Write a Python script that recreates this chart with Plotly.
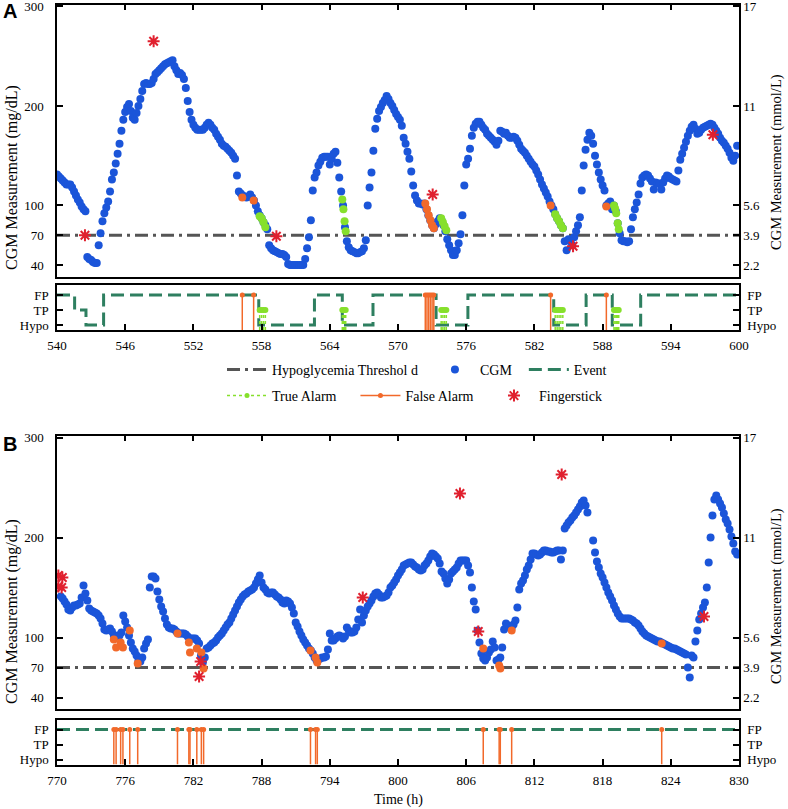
import numpy as np
import plotly.graph_objects as go

# ---------------- DATA ----------------
step_h = 1 / 6  # CGM values read every 10 min
a_start, a_end = 540, 600
b_start, b_end = 770, 830
hypo_threshold = 70

cgm_a = [
    131, 129, 127, 125, 123, 121,   # 540
    121, 121, 118, 114, 110, 106,   # 541
    103, 99, 96, 94, 48, 46,        # 542
    45, 43, 42, 42, 60, 72,         # 543
    84, 92, 98, 104, 114, 126,      # 544
    133, 142, 152, 162, 175, 186,   # 545
    194, 199, 202, 195, 188, 186,   # 546
    193, 200, 207, 215, 222, 223,   # 547
    222, 222, 223, 227, 232, 234,   # 548
    236, 238, 240, 242, 243, 244,   # 549
    245, 246, 240, 236, 232, 233,   # 550
    231, 227, 218, 205, 194, 186,   # 551
    181, 178, 176, 176, 176, 176,   # 552
    178, 181, 183, 181, 178, 176,   # 553
    172, 169, 166, 162, 160, 159,   # 554
    157, 155, 153, 150, 147, 130,   # 555
    114, 112, 110, 109, 108, 109,   # 556
    111, 108, 105, 100, 94, 90,     # 557
    87, 83, 80, 76, 60, 57,         # 558
    55, 54, 53, 52, 51, 51,         # 559
    50, 48, 41, 40, 40, 40,         # 560
    40, 40, 40, 40, 40, 46,         # 561
    57, 68, 85, 115, 128, 133,      # 562
    140, 144, 148, 149, 149, 149,   # 563
    141, 147, 152, 154, 143, 128,   # 564
    114, 100, 78, 64, 58, 55,       # 565
    54, 53, 52, 52, 53, 54,         # 566
    57, 65, 100, 118, 133, 155,     # 567
    177, 187, 195, 199, 203, 206,   # 568
    210, 207, 203, 200, 196, 192,   # 569
    189, 186, 180, 168, 162, 154,   # 570
    147, 134, 120, 110, 105, 102,   # 571
    102, 101, 102, 96, 90, 85,      # 572
    80, 77, 81, 84, 87, 85,         # 573
    80, 74, 66, 60, 55, 50,         # 574
    50, 55, 62, 71, 90, 120,        # 575
    141, 147, 157, 170, 178, 182,   # 576
    184, 184, 181, 178, 176, 172,   # 577
    170, 168, 166, 164, 161, 165,   # 578
    175, 174, 172, 173, 170, 168,   # 579
    168, 169, 168, 165, 161, 157,   # 580
    155, 153, 150, 147, 144, 141,   # 581
    139, 135, 131, 126, 121, 117,   # 582
    113, 109, 104, 100, 96, 91,     # 583
    87, 84, 80, 77, 64, 55,         # 584
    66, 64, 60, 68, 74, 80,         # 585
    88, 115, 140, 156, 166, 173,    # 586
    170, 162, 150, 141, 133, 126,   # 587
    120, 115, 100, 102, 104, 96,    # 588
    100, 94, 82, 72, 65, 64,        # 589
    64, 63, 64, 76, 88, 96,         # 590
    103, 111, 122, 128, 130, 131,   # 591
    130, 127, 124, 116, 123, 122,   # 592
    122, 116, 123, 127, 130, 129,   # 593
    127, 126, 125, 124, 135, 146,   # 594
    152, 158, 164, 170, 175, 179,   # 595
    181, 177, 172, 173, 176, 178,   # 596
    179, 180, 181, 182, 181, 178,   # 597
    175, 172, 168, 165, 163, 160,   # 598
    157, 153, 148, 145, 150, 160,   # 599
]

cgm_b = [
    None, None, 141, 139, 136, 133, # 770
    128, 127, 130, 132, 132, 133,   # 771
    134, 140, 152, 144, 137, 129,   # 772
    127, 126, 125, 124, 122, 119,   # 773
    114, 108, 107, 108, 109, 106,   # 774
    102, 101, 102, 102, 105, 122,   # 775
    116, 110, 102, 95, 89, 86,      # 776
    82, 77, 76, 80, 89, 94,         # 777
    98, 150, 161, 161, 159, 146,    # 778
    138, 131, 126, 119, 113, 110,   # 779
    109, 109, 108, 106, 104, 104,   # 780
    104, 104, 103, 101, 99, 99,     # 781
    99, 99, 97, 94, 82, 75,         # 782
    80, 89, 90, 92, 94, 95,         # 783
    97, 100, 102, 104, 107, 110,    # 784
    113, 115, 119, 123, 127, 131,   # 785
    135, 138, 141, 143, 144, 146,   # 786
    147, 148, 150, 154, 158, 162,   # 787
    155, 150, 148, 145, 144, 145,   # 788
    145, 143, 141, 140, 138, 135,   # 789
    134, 137, 136, 134, 130, 124,   # 790
    115, 111, 106, 102, 98, 95,     # 791
    92, 89, 87, 84, 80, 77,         # 792
    78, 79, 80, 80, 81, 88,         # 793
    104, 97, 97, 99, 101, 102,      # 794
    101, 99, 101, 110, 107, 105,    # 795
    105, 106, 110, 118, 128, 115,   # 796
    122, 127, 131, 134, 137, 141,   # 797
    144, 145, 143, 140, 140, 141,   # 798
    142, 145, 150, 152, 155, 158,   # 799
    162, 165, 168, 172, 173, 174,   # 800
    175, 175, 173, 171, 170, 168,   # 801
    167, 168, 172, 174, 177, 181,   # 802
    184, 183, 181, 179, 174, 166,   # 803
    164, 159, 154, 158, 164, 166,   # 804
    168, 170, 174, 177, 177, 177,   # 805
    177, 172, 165, 150, 136, 128,   # 806
    107, 95, 84, 79, 77, 80,        # 807
    85, 88, 96, 90, 77, 78,         # 808
    80, 90, 108, 114, 112, 110,     # 809
    110, 113, 117, 130, 148, 154,   # 810
    157, 162, 168, 172, 178, 184,   # 811
    184, 183, 182, 183, 185, 187,   # 812
    187, 186, 186, 185, 185, 186,   # 813
    187, 187, 178, 187, 209, 212,   # 814
    215, 217, 220, 222, 225, 228,   # 815
    231, 235, 237, 232, 225, None,  # 816
    None, 197, 185, 176, 170, 164,  # 817
    160, 155, 150, 145, 141, 137,   # 818
    132, 128, 124, 121, 119, 119,   # 819
    119, 119, 119, 118, 117, 115,   # 820
    114, 112, 109, 106, 104, 102,   # 821
    101, 100, 99, 98, 97, 96,       # 822
    96, 95, 94, 93, 92, 91,         # 823
    90, 89, 89, 88, 87, 86,         # 824
    85, 84, 83, 70, 60, 82,         # 825
    80, 96, 107, 118, 124, 130,     # 826
    135, 150, 175, 200, 222, 238,   # 827
    242, 238, 234, 230, 224, 218,   # 828
    214, 208, 201, 194, 186, 183,   # 829
]

# alarms (time h, CGM value at alarm)
false_a_t = [556.3, 557.3, 572.4, 572.55, 572.7, 572.85, 573.0, 573.15, 583.43, 588.33]
false_a_v = [108, 105, 102, 96, 90, 85, 80, 77, 100, 99]
true_a_t = [557.83, 558.0, 558.17, 558.33, 565.1, 565.2, 565.3, 565.4,
            573.8, 573.95, 574.1, 574.25, 583.83, 584.0, 584.17, 584.33, 584.5,
            589.0, 589.1, 589.2, 589.33, 589.42]
true_a_v = [89, 87, 83, 78, 106, 96, 84, 74,
            87, 83, 79, 75, 91, 87, 84, 80, 77,
            100, 97, 92, 82, 76]
finger_a_t = [542.46, 548.5, 559.3, 573.05, 585.4, 597.7]
finger_a_v = [70, 265, 69, 111, 59, 171]

false_b_t = [775.0, 775.2, 775.6, 775.8, 776.4, 777.1, 780.6, 781.6, 781.7, 782.3,
             782.7, 782.9, 792.3, 792.75, 792.9, 807.5, 808.9, 809.0, 810.0, 823.2]
false_b_v = [98, 90, 95, 90, 107, 74, 104, 95, 85, 89,
             85, 69, 87, 80, 75, 89, 72, 69, 107, 94]
true_b_t = []
true_b_v = []
finger_b_t = [770.12, 770.47, 770.12, 770.41, 782.64, 782.5, 796.9, 805.45, 807.06, 814.4, 826.92]
finger_b_v = [162, 160, 151, 150, 76, 61, 140, 244, 106, 263, 121]

# event state steps (0 = Hypo, 1 = TP, 2 = FP)
event_a_t = [540, 541.55, 542.55, 544.1, 557.75, 562.65, 565.1, 567.8, 573.35, 576.15,
             583.7, 586.55, 588.85, 591.35, 600]
event_a_s = [2, 1, 0, 2, 0, 2, 0, 2, 0, 2, 0, 2, 0, 2, 2]
event_b_t = [770, 830]
event_b_s = [2, 2]

mg_ticks = [40, 70, 100, 200, 300]
mmol_labels = ["2.2", "3.9", "5.6", "11", "17"]
event_ticks = [0, 1, 2]
event_labels = ["Hypo", "TP", "FP"]

# ---------------- STYLE ----------------
W, H = 788, 809
C_BLUE = "#1b55d9"
C_ORANGE = "#f2692a"
C_GREEN = "#86e02c"
C_RED = "#e0202e"
C_EVENT = "#2e7f60"
C_THR = "#555555"
FONT = "Liberation Serif"
NB = "\u00a0"

XD = [57 / W, 739 / W]


def ydom(top_px, bot_px):
    return [1 - bot_px / H, 1 - top_px / H]


def stems(times, top, bottom):
    xs, ys = [], []
    for t in times:
        xs += [t, t, None]
        ys += [bottom, top, None]
    return xs, ys


EV_RANGE = [-1 / 3, 2 + 2 / 3]
CGM_RANGE = [28.5, 302]

fig = go.Figure()

panels = [
    dict(t0=a_start, t1=a_end, cgm=cgm_a, ft=false_a_t, fv=false_a_v, tt=true_a_t, tv=true_a_v,
         gt=finger_a_t, gv=finger_a_v, et=event_a_t, es=event_a_s,
         xc="x", yc="y", yr="y2", xe="x2", ye="y3", yer="y4", leg=True),
    dict(t0=b_start, t1=b_end, cgm=cgm_b, ft=false_b_t, fv=false_b_v, tt=true_b_t, tv=true_b_v,
         gt=finger_b_t, gv=finger_b_v, et=event_b_t, es=event_b_s,
         xc="x3", yc="y5", yr="y6", xe="x4", ye="y7", yer="y8", leg=False),
]

for p in panels:
    t = p["t0"] + np.arange(len(p["cgm"])) * step_h
    fig.add_trace(go.Scatter(x=[p["t0"], p["t1"]], y=[hypo_threshold, hypo_threshold], mode="lines",
                             line=dict(color=C_THR, width=3, dash="13px,5px,3px,5px"),
                             name="Hypoglycemia Threshol d" + NB * 2, showlegend=p["leg"], legend="legend",
                             xaxis=p["xc"], yaxis=p["yc"]))
    fig.add_trace(go.Scatter(x=t, y=p["cgm"], mode="markers",
                             marker=dict(color=C_BLUE, size=8, line=dict(width=0)),
                             name="CGM" + NB * 2, showlegend=p["leg"], legend="legend",
                             xaxis=p["xc"], yaxis=p["yc"]))
    fig.add_trace(go.Scatter(x=p["et"], y=p["es"], mode="lines", line_shape="hv",
                             line=dict(color=C_EVENT, width=3, dash="13px,6px"),
                             name="Event", showlegend=p["leg"], legend="legend",
                             xaxis=p["xe"], yaxis=p["ye"]))
    fig.add_trace(go.Scatter(x=p["ft"], y=p["fv"], mode="markers",
                             marker=dict(color=C_ORANGE, size=8, line=dict(width=0)),
                             showlegend=False, xaxis=p["xc"], yaxis=p["yc"]))
    if p["tt"]:
        fig.add_trace(go.Scatter(x=p["tt"], y=p["tv"], mode="markers",
                                 marker=dict(color=C_GREEN, size=8, line=dict(width=0)),
                                 showlegend=False, xaxis=p["xc"], yaxis=p["yc"]))
    fig.add_trace(go.Scatter(x=p["gt"], y=p["gv"], mode="markers",
                             marker=dict(symbol="asterisk-open", color=C_RED, size=10,
                                         line=dict(color=C_RED, width=2)),
                             showlegend=False, xaxis=p["xc"], yaxis=p["yc"]))
    # stems in event panel
    sx, sy = stems(p["ft"], 2, EV_RANGE[0])
    fig.add_trace(go.Scatter(x=sx, y=sy, mode="lines", line=dict(color=C_ORANGE, width=1.5),
                             showlegend=False, xaxis=p["xe"], yaxis=p["ye"]))
    fig.add_trace(go.Scatter(x=p["ft"], y=[2] * len(p["ft"]), mode="markers",
                             marker=dict(color=C_ORANGE, size=5), showlegend=False,
                             xaxis=p["xe"], yaxis=p["ye"]))
    if p["tt"]:
        sx, sy = stems(p["tt"], 1, EV_RANGE[0])
        fig.add_trace(go.Scatter(x=sx, y=sy, mode="lines",
                                 line=dict(color=C_GREEN, width=1.5, dash="dot"),
                                 showlegend=False, xaxis=p["xe"], yaxis=p["ye"]))
        fig.add_trace(go.Scatter(x=p["tt"], y=[1] * len(p["tt"]), mode="markers",
                                 marker=dict(color=C_GREEN, size=6), showlegend=False,
                                 xaxis=p["xe"], yaxis=p["ye"]))
    # empty traces so the right-hand (mmol/L and event) axes are drawn
    for xa, ya in [(p["xc"], p["yr"]), (p["xe"], p["yer"])]:
        fig.add_trace(go.Scatter(x=[], y=[], mode="markers", showlegend=False,
                                 hoverinfo="skip", xaxis=xa, yaxis=ya))

# legend-only entries (second row)
fig.add_trace(go.Scatter(x=[None], y=[None], mode="lines+markers", name="True Alarm" + NB * 4,
                         line=dict(color=C_GREEN, width=1.5, dash="dot"),
                         marker=dict(color=C_GREEN, size=5), legend="legend2"))
fig.add_trace(go.Scatter(x=[None], y=[None], mode="lines+markers", name="False Alarm" + NB * 3,
                         line=dict(color=C_ORANGE, width=1.5),
                         marker=dict(color=C_ORANGE, size=5), legend="legend2"))
fig.add_trace(go.Scatter(x=[None], y=[None], mode="markers", name="Fingerstick",
                         marker=dict(symbol="asterisk-open", color=C_RED, size=10,
                                     line=dict(color=C_RED, width=2)), legend="legend2"))

axis_common = dict(showgrid=False, zeroline=False, showline=True, linecolor="black", linewidth=1.5,
                   ticks="inside", ticklen=6, tickwidth=1.5, tickcolor="black", automargin=False,
                   ticklabeloverflow="allow",
                   tickfont=dict(family=FONT, size=13, color="black"))
left_cgm = dict(axis_common, ticklabelstandoff=9)
right_cgm = dict(axis_common, ticklabelstandoff=0)
left_ev = dict(axis_common, ticklabelstandoff=4)
right_ev = dict(axis_common, ticklabelstandoff=4)
bottom_x = dict(axis_common, ticklabelstandoff=3)


def xticks(t0, t1):
    return list(range(t0, t1 + 1, 6))


fig.update_layout(
    template="none",
    width=W, height=H, margin=dict(l=0, r=0, t=0, b=0, pad=0, autoexpand=False),
    paper_bgcolor="white", plot_bgcolor="white",
    font=dict(family=FONT, size=13, color="black"),
)

cgm_dom = {"A": ydom(4.5, 276.5), "B": ydom(435.5, 709)}
ev_dom = {"A": ydom(285, 330), "B": ydom(719.5, 764.5)}

fig.update_layout(
    xaxis=dict(axis_common, domain=XD, range=[a_start, a_end], anchor="y", side="top",
               tickvals=xticks(a_start, a_end), showticklabels=False, mirror=True),
    yaxis=dict(left_cgm, domain=cgm_dom["A"], range=CGM_RANGE, anchor="x", tickvals=mg_ticks),
    yaxis2=dict(right_cgm, range=CGM_RANGE, anchor="x", overlaying="y", side="right",
                tickvals=mg_ticks, ticktext=mmol_labels),
    xaxis2=dict(bottom_x, domain=XD, range=[a_start, a_end], anchor="y3",
                tickvals=xticks(a_start, a_end), mirror=True),
    yaxis3=dict(left_ev, domain=ev_dom["A"], range=EV_RANGE, anchor="x2",
                tickvals=event_ticks, ticktext=event_labels),
    yaxis4=dict(right_ev, range=EV_RANGE, anchor="x2", overlaying="y3", side="right",
                tickvals=event_ticks, ticktext=event_labels),
    xaxis3=dict(axis_common, domain=XD, range=[b_start, b_end], anchor="y5", side="top",
                tickvals=xticks(b_start, b_end), showticklabels=False, mirror=True),
    yaxis5=dict(left_cgm, domain=cgm_dom["B"], range=CGM_RANGE, anchor="x3", tickvals=mg_ticks),
    yaxis6=dict(right_cgm, range=CGM_RANGE, anchor="x3", overlaying="y5", side="right",
                tickvals=mg_ticks, ticktext=mmol_labels),
    xaxis4=dict(bottom_x, domain=XD, range=[b_start, b_end], anchor="y7",
                tickvals=xticks(b_start, b_end), mirror=True),
    yaxis7=dict(left_ev, domain=ev_dom["B"], range=EV_RANGE, anchor="x4",
                tickvals=event_ticks, ticktext=event_labels),
    yaxis8=dict(right_ev, range=EV_RANGE, anchor="x4", overlaying="y7", side="right",
                tickvals=event_ticks, ticktext=event_labels),
    legend=dict(orientation="h", x=222 / W, xanchor="left", y=1 - 370 / H, yanchor="middle",
                font=dict(family=FONT, size=14), bgcolor="rgba(0,0,0,0)", itemwidth=40),
    legend2=dict(orientation="h", x=222 / W, xanchor="left", y=1 - 396 / H, yanchor="middle",
                 font=dict(family=FONT, size=14), bgcolor="rgba(0,0,0,0)", itemwidth=40),
)

ann = []
for lab, ypx in [("A", 11), ("B", 444)]:
    ann.append(dict(text="<b>%s</b>" % lab, x=1 / W, y=1 - ypx / H, xref="paper", yref="paper",
                    xanchor="left", yanchor="middle", showarrow=False,
                    font=dict(family="Liberation Sans", size=20, color="black")))
for yl, yr in [(178, 162), (612, 596)]:
    ann.append(dict(text="CGM Measurement (mg/dL)", x=12 / W, y=1 - yl / H, xref="paper", yref="paper",
                    xanchor="center", yanchor="middle", textangle=-90, showarrow=False,
                    font=dict(family=FONT, size=16)))
    ann.append(dict(text="CGM Measurement (mmol/L)", x=776 / W, y=1 - yr / H, xref="paper", yref="paper",
                    xanchor="center", yanchor="middle", textangle=-90, showarrow=False,
                    font=dict(family=FONT, size=14.5)))
ann.append(dict(text="Time (h)", x=398 / W, y=1 - 800 / H, xref="paper", yref="paper",
                xanchor="center", yanchor="middle", showarrow=False, font=dict(family=FONT, size=14)))
fig.update_layout(annotations=ann)

fig.write_html("out.html", config={"displayModeBar": False},
               post_script="document.body.style.margin='0';document.body.style.overflow='hidden';")
